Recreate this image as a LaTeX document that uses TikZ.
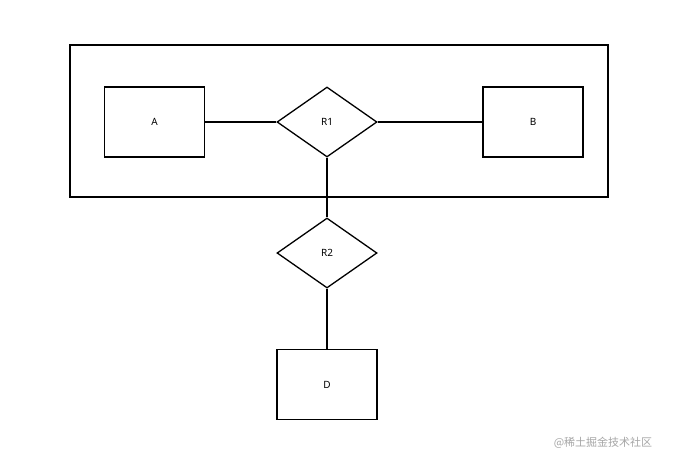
\documentclass[tikz,border=0pt]{standalone}
\usepackage{fontspec}
\setmainfont{Noto Sans}
\newfontfamily\cjk{Noto Sans CJK SC}
\usetikzlibrary{shapes.geometric}
\begin{document}
\begin{tikzpicture}[x=1pt,y=-1pt,line width=1.3pt,
  ent/.style={draw,minimum width=100pt,minimum height=70pt,inner sep=0pt,font=\fontsize{10}{12}\selectfont},
  rel/.style={draw,diamond,minimum width=100pt,minimum height=70pt,inner sep=0pt,aspect=1.43,font=\fontsize{10}{12}\selectfont}]
\useasboundingbox (0,0) rectangle (680,467);
\fill[white] (0,0) rectangle (680,467);
\node[draw,minimum width=538pt,minimum height=152pt,inner sep=0pt] (box) at (339,121) {};
\node[ent] (A) at (154.5,122) {A};
\node[rel] (R1) at (327,122) {R1};
\node[ent] (B) at (533,122) {B};
\node[rel] (R2) at (327,253) {R2};
\node[ent] (D) at (327,384.5) {D};
\draw (A) -- (R1);
\draw (R1) -- (B);
\draw (R1) -- (R2);
\draw (R2) -- (D);
\node[text=gray!70,font=\cjk\fontsize{11}{13}\selectfont] (wm) at (603,443) {@稀土掘金技术社区};
\end{tikzpicture}
\end{document}
